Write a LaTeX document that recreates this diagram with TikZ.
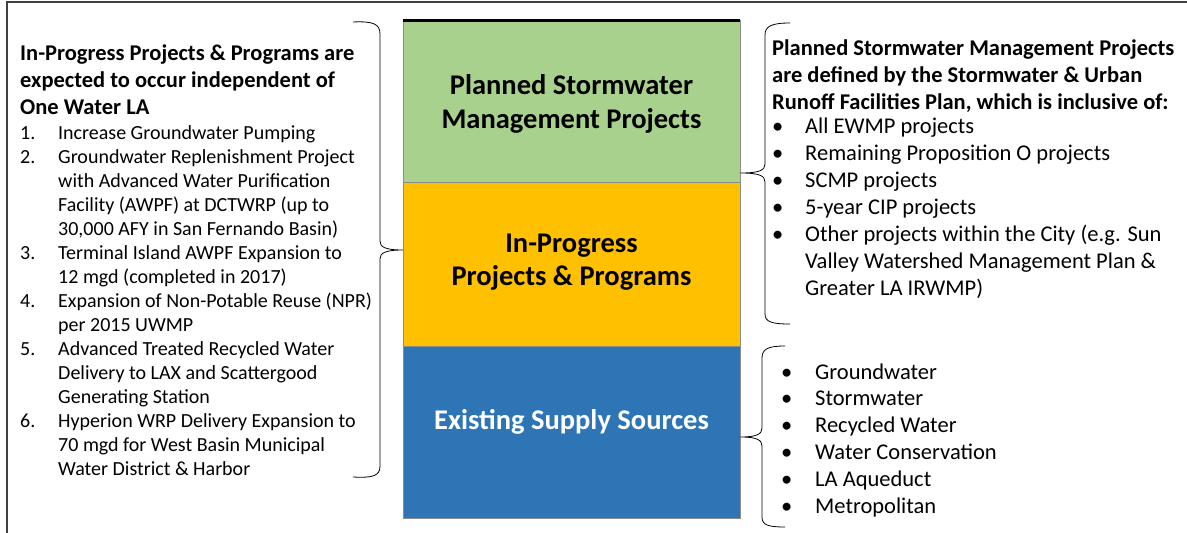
\documentclass[tikz,border=0pt]{standalone}
\usepackage{fontspec}
\setmainfont{Carlito}
\usetikzlibrary{positioning}

\definecolor{plangreen}{HTML}{A9D18E}
\definecolor{proggold}{HTML}{FFC000}
\definecolor{supplyblue}{HTML}{2E75B6}

\begin{document}
\begin{tikzpicture}[x=1pt,y=1pt]
	 \tikzstyle{layer}=[draw=black!45,minimum width=337pt,inner sep=0pt,anchor=north west]
	 \tikzstyle{title}=[anchor=base,inner sep=0pt,font=\fontsize{28.5}{34}\selectfont\bfseries]
	 \tikzstyle{head}=[anchor=base west,inner sep=0pt,font=\fontsize{22.5}{27}\selectfont\bfseries]
	 \tikzstyle{item}=[anchor=base west,inner sep=0pt,font=\fontsize{20}{24}\selectfont]
	 \tikzstyle{bigitem}=[item,font=\fontsize{22.5}{27}\selectfont]
	 \tikzstyle{brc} = [draw,line width=0.8pt,black]
	 \useasboundingbox (0,0) rectangle (1187,-533);
	 \draw[black!75,line width=1.2pt] (7,-533) -- (7,-2) -- (1187,-2);

	 % stacked layers
	 \node[layer,fill=plangreen,minimum height=162pt] (planned) at (403,-20) {};
	 \node[layer,fill=proggold,minimum height=164pt] (inprog) at (403,-182) {};
	 \node[layer,fill=supplyblue,minimum height=172pt] (existing) at (403,-346) {};
	 \draw[line width=3pt] (planned.north west) -- (planned.north east);

	 \node[title] (plan1) at (571.5,-94) {Planned Stormwater};
	 \node[title] (plan2) at (571.5,-128) {Management Projects};
	 \node[title] (prog1) at (571.5,-252) {In-Progress};
	 \node[title] (prog2) at (571.5,-285) {Projects \& Programs};
	 \node[title,white] (supply) at (571.5,-429) {Existing Supply Sources};

	 % left text
	 \foreach \txt [count=\i] in {In-Progress Projects \& Programs are,expected to occur independent of,One Water LA}
	 	\node[head] (lhead\i) at (20,{-60-27*(\i-1)}) {\txt};
	 \foreach \n/\txt [count=\i] in {1./Increase Groundwater Pumping,
	 	2./Groundwater Replenishment Project, /with Advanced Water Purification,
	 	{/Facility (AWPF) at DCTWRP (up to}, {/30,000 AFY in San Fernando Basin)},
	 	3./Terminal Island AWPF Expansion to, /12 mgd (completed in 2017),
	 	4./Expansion of Non-Potable Reuse (NPR), /per 2015 UWMP,
	 	5./Advanced Treated Recycled Water, /Delivery to LAX and Scattergood, /Generating Station,
	 	6./Hyperion WRP Delivery Expansion to, /70 mgd for West Basin Municipal, /Water District \& Harbor}
	 	\node[item] (litem\i) at (20,{-139-24*(\i-1)}) {\makebox[38pt][l]{\n}\txt};

	 % right text
	 \foreach \txt [count=\i] in {Planned Stormwater Management Projects,are defined by the Stormwater \& Urban,{Runoff Facilities Plan, which is inclusive of:}}
	 	\node[head] (rhead\i) at (772,{-55-27*(\i-1)}) {\txt};
	 \foreach \n/\txt [count=\i] in {\textbullet/All EWMP projects, \textbullet/Remaining Proposition O projects,
	 	\textbullet/SCMP projects, \textbullet/5-year CIP projects,
	 	\textbullet/Other projects within the City (e.g. Sun, /Valley Watershed Management Plan \&, /Greater LA IRWMP)}
	 	\node[bigitem] (ritem\i) at (772,{-133-27*(\i-1)}) {\makebox[33pt][l]{\n}\txt};
	 \foreach \txt [count=\i] in {Groundwater,Stormwater,Recycled Water,Water Conservation,LA Aqueduct,Metropolitan}
	 	\node[bigitem] (src\i) at (781,{-379-26.8*(\i-1)}) {\makebox[34pt][l]{\textbullet}\txt};

	 % braces
	 \draw[brc] (353,-22) .. controls (373,-21) and (380,-24) .. (380,-34) -- (380,-241)
	 	.. controls (380,-247) and (385,-250) .. (inprog.west |- 0,-250)
	 	.. controls (385,-250) and (380,-253) .. (380,-259) -- (380,-466)
	 	.. controls (380,-476) and (373,-478) .. (353,-477);
	 \draw[brc] (790,-23) .. controls (772,-23) and (765,-26) .. (765,-35) -- (765,-164)
	 	.. controls (765,-170) and (760,-173) .. (planned.east |- 0,-173)
	 	.. controls (760,-173) and (765,-176) .. (765,-182) -- (765,-314)
	 	.. controls (765,-322) and (772,-324) .. (790,-324);
	 \draw[brc] (785,-346) .. controls (768,-346) and (762,-349) .. (762,-358) -- (762,-428)
	 	.. controls (762,-434) and (757,-437) .. (existing.east |- 0,-437)
	 	.. controls (757,-437) and (762,-440) .. (762,-446) -- (762,-517)
	 	.. controls (762,-525) and (768,-527) .. (785,-527);
\end{tikzpicture}
\end{document}
